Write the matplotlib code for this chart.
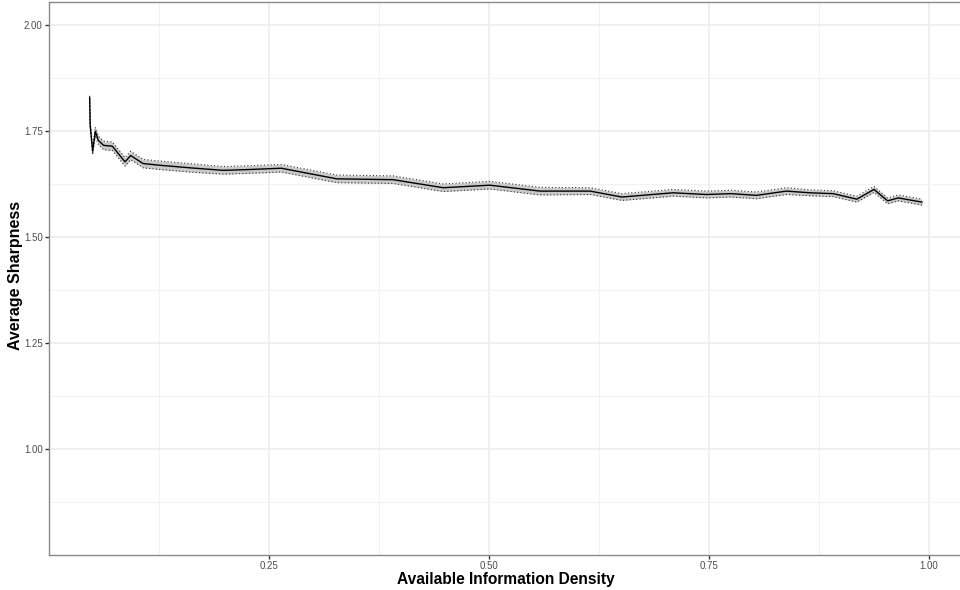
import matplotlib
matplotlib.use("Agg")
import matplotlib.pyplot as plt
import numpy as np

# Average sharpness against available information density, with a confidence band
density = [0.0462, 0.0468, 0.0496, 0.0526, 0.0560, 0.0620, 0.0720, 0.0864, 0.0928,
           0.1070, 0.1260, 0.1600, 0.1980, 0.2280, 0.2640, 0.3270, 0.3910, 0.4480,
           0.5010, 0.5580, 0.6150, 0.6510, 0.7090, 0.7470, 0.7750, 0.8040, 0.8380,
           0.8650, 0.8910, 0.9180, 0.9375, 0.9530, 0.9650, 0.9920]
sharpness = [1.830, 1.765, 1.703, 1.750, 1.729, 1.717, 1.715, 1.678, 1.693,
             1.674, 1.670, 1.664, 1.658, 1.660, 1.663, 1.638, 1.636, 1.617,
             1.623, 1.609, 1.609, 1.595, 1.605, 1.601, 1.603, 1.599, 1.609,
             1.605, 1.603, 1.590, 1.613, 1.586, 1.593, 1.583]
half_width = [0.004, 0.005, 0.008, 0.010, 0.010, 0.010, 0.010, 0.010, 0.010,
              0.010, 0.010, 0.010, 0.009, 0.009, 0.009, 0.009, 0.009, 0.009,
              0.009, 0.009, 0.008, 0.008, 0.008, 0.008, 0.008, 0.008, 0.008,
              0.007, 0.007, 0.007, 0.007, 0.007, 0.007, 0.007]

x_ticks = [0.25, 0.50, 0.75, 1.00]
x_tick_labels = ["0.25", "0.50", "0.75", "1.00"]
y_ticks = [1.00, 1.25, 1.50, 1.75, 2.00]
y_tick_labels = ["1.00", "1.25", "1.50", "1.75", "2.00"]

x = np.array(density)
y = np.array(sharpness)
hw = np.array(half_width)
lower = y - hw
upper = y + hw

plt.rcParams["font.family"] = ["Liberation Sans", "DejaVu Sans"]

W, H = 960, 590
fig = plt.figure(figsize=(W / 100, H / 100), dpi=100)
ax = fig.add_axes([49 / W, 35 / H, 1 - 49 / W, (554 - 0.5) / H])

ax.set_xlim(0.0, 911 / 880)
ax.set_ylim(0.75, 2.0566)

# grid: major at ticks, minor halfway between
ax.set_xticks(x_ticks)
ax.set_xticklabels(x_tick_labels)
ax.set_yticks(y_ticks)
ax.set_yticklabels(y_tick_labels)
ax.set_xticks([0.125, 0.375, 0.625, 0.875], minor=True)
ax.set_yticks([0.875, 1.125, 1.375, 1.625, 1.875], minor=True)
ax.grid(which="major", color="#ebebeb", linewidth=1.1)
ax.grid(which="minor", color="#f2f2f2", linewidth=0.8)
ax.set_axisbelow(True)

ax.fill_between(x, lower, upper, color="#c9c9c9", linewidth=0, zorder=2)
ax.plot(x, lower, color="#333333", linestyle=(0, (1, 2)), linewidth=0.8, zorder=3)
ax.plot(x, upper, color="#333333", linestyle=(0, (1, 2)), linewidth=0.8, zorder=3)
ax.plot(x, y, color="black", linewidth=1.0, zorder=4)

for side in ["left", "bottom", "top"]:
    ax.spines[side].set_color("#8a8a8a")
    ax.spines[side].set_linewidth(1.0)
ax.spines["right"].set_visible(False)

ax.tick_params(axis="both", which="major", length=3, width=1.0, color="#333333",
               labelsize=7, labelcolor="#4d4d4d", pad=1.5)
ax.tick_params(axis="both", which="minor", length=0)

ax.set_xlabel("Available Information Density", fontsize=11.2, fontweight="bold")
ax.set_ylabel("Average Sharpness", fontsize=11.5, fontweight="bold")
ax.xaxis.set_label_coords(0.502, -0.031)
ax.yaxis.set_label_coords(-0.029, 0.505)

fig.savefig("out.png", dpi=100, facecolor="white")
